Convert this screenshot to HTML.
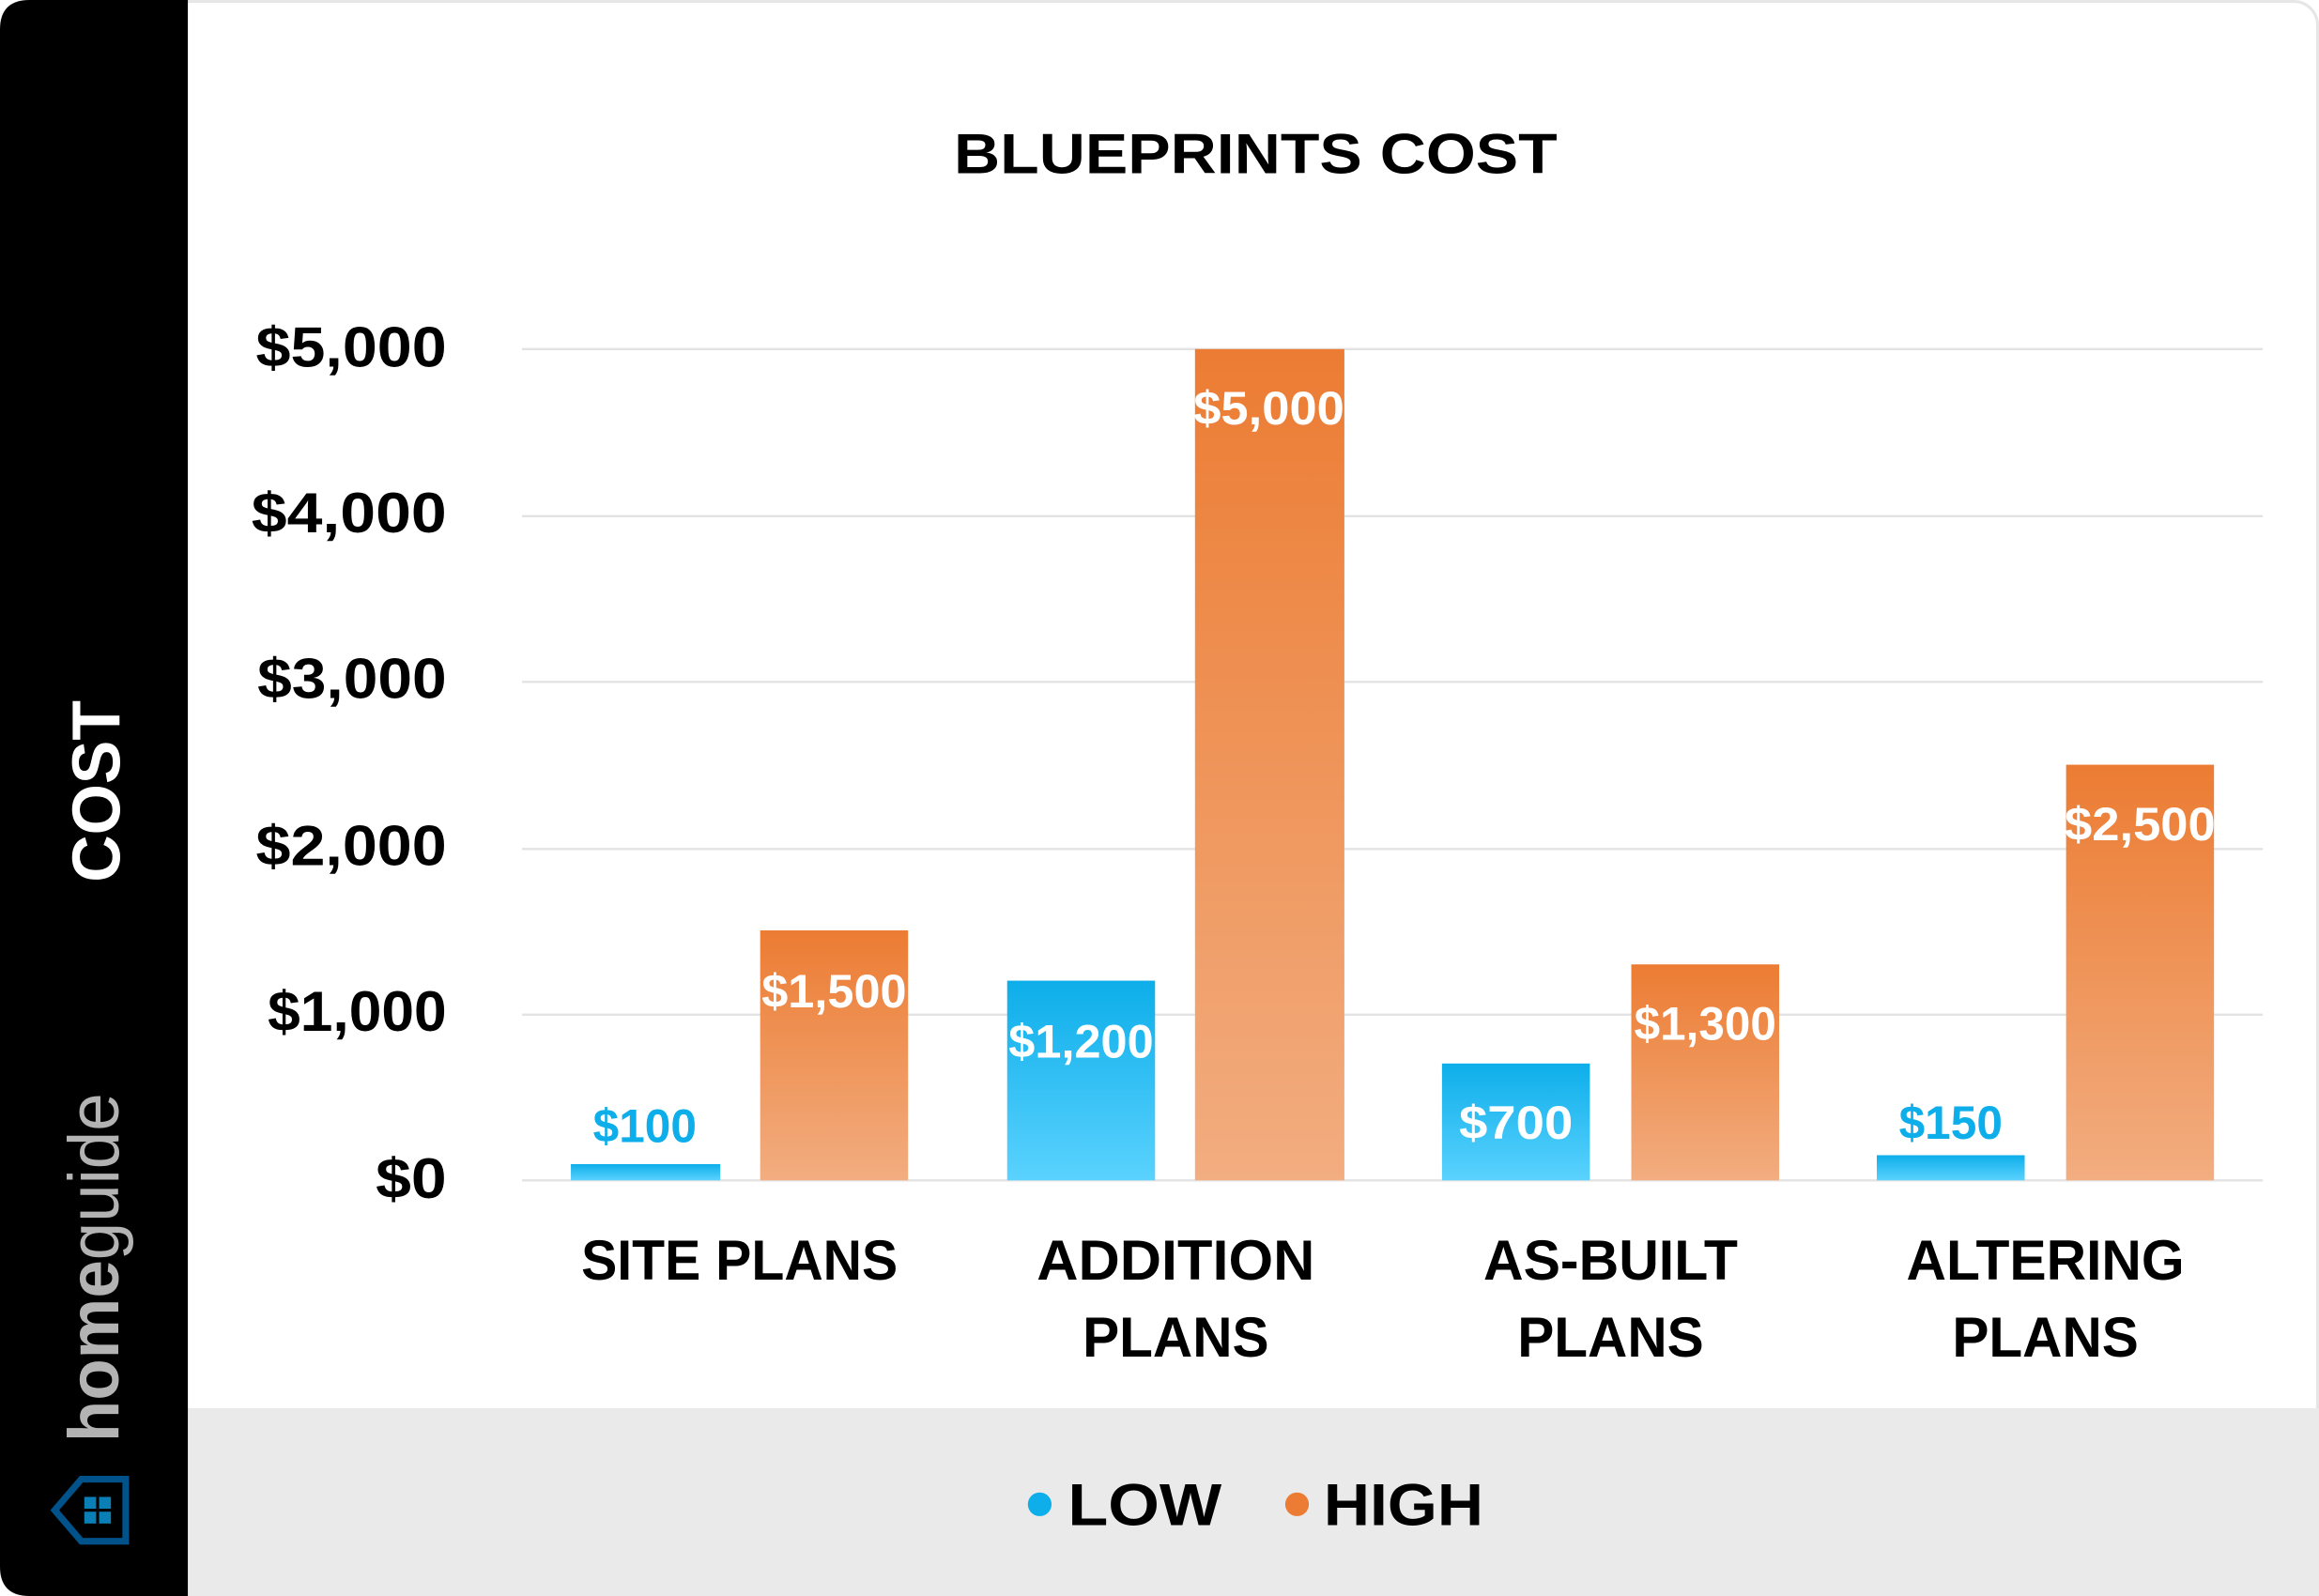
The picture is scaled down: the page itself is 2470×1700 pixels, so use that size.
<!DOCTYPE html>
<html><head><meta charset="utf-8"><style>html,body{margin:0;padding:0;background:#fff}svg{display:block}</style></head>
<body>
<svg width="2470" height="1700" viewBox="0 0 1568 1079" preserveAspectRatio="none" xmlns="http://www.w3.org/2000/svg" font-family="'Liberation Sans', sans-serif">
<defs>
<linearGradient id="bl" x1="0" y1="0" x2="0" y2="1"><stop offset="0" stop-color="#0DAEEA"/><stop offset="1" stop-color="#5AD2FE"/></linearGradient>
<linearGradient id="or" x1="0" y1="0" x2="0" y2="1"><stop offset="0" stop-color="#EC7C33"/><stop offset="1" stop-color="#F2AD80"/></linearGradient>
</defs>
<rect x="0" y="0" width="1568" height="1079" fill="#ffffff"/>
<rect x="1" y="1" width="1566" height="1077" rx="16" fill="#fff" stroke="#e6e6e6" stroke-width="2"/>
<rect x="127" y="952" width="1441" height="127" fill="#EAEAEA"/>
<path d="M20 0 H127 V1079 H20 Q0 1079 0 1059 V20 Q0 0 20 0 Z" fill="#000"/>
<text x="849" y="117" text-anchor="middle" font-size="38" font-weight="bold" fill="#000" textLength="408" lengthAdjust="spacingAndGlyphs">BLUEPRINTS COST</text>
<g stroke="#e3e3e3" stroke-width="1.5">
<line x1="353" y1="236" x2="1530" y2="236"/><line x1="353" y1="349" x2="1530" y2="349"/><line x1="353" y1="461" x2="1530" y2="461"/><line x1="353" y1="574" x2="1530" y2="574"/><line x1="353" y1="686" x2="1530" y2="686"/><line x1="353" y1="798" x2="1530" y2="798"/>
</g>
<g font-size="38" font-weight="bold" fill="#000" text-anchor="end">
<text x="302" y="248" textLength="129" lengthAdjust="spacingAndGlyphs">$5,000</text>
<text x="302" y="360" textLength="132" lengthAdjust="spacingAndGlyphs">$4,000</text>
<text x="302" y="472" textLength="128" lengthAdjust="spacingAndGlyphs">$3,000</text>
<text x="302" y="585" textLength="129" lengthAdjust="spacingAndGlyphs">$2,000</text>
<text x="302" y="697" textLength="121" lengthAdjust="spacingAndGlyphs">$1,000</text>
<text x="302" y="810" textLength="48" lengthAdjust="spacingAndGlyphs">$0</text>
</g>
<rect x="386" y="787" width="101" height="11" fill="url(#bl)"/>
<rect x="514" y="629" width="100" height="169" fill="url(#or)"/>
<rect x="681" y="663" width="100" height="135" fill="url(#bl)"/>
<rect x="808" y="236" width="101" height="562" fill="url(#or)"/>
<rect x="975" y="719" width="100" height="79" fill="url(#bl)"/>
<rect x="1103" y="652" width="100" height="146" fill="url(#or)"/>
<rect x="1269" y="781" width="100" height="17" fill="url(#bl)"/>
<rect x="1397" y="517" width="100" height="281" fill="url(#or)"/>
<g font-size="32" font-weight="bold" text-anchor="middle">
<text x="436" y="772" fill="#0DAEEA" textLength="70" lengthAdjust="spacingAndGlyphs">$100</text>
<text x="564" y="681" fill="#fff" textLength="98" lengthAdjust="spacingAndGlyphs">$1,500</text>
<text x="731" y="715" fill="#fff" textLength="98" lengthAdjust="spacingAndGlyphs">$1,200</text>
<text x="858" y="287" fill="#fff" textLength="102" lengthAdjust="spacingAndGlyphs">$5,000</text>
<text x="1025" y="770" fill="#fff" textLength="77" lengthAdjust="spacingAndGlyphs">$700</text>
<text x="1153" y="703" fill="#fff" textLength="96" lengthAdjust="spacingAndGlyphs">$1,300</text>
<text x="1319" y="770" fill="#0DAEEA" textLength="70" lengthAdjust="spacingAndGlyphs">$150</text>
<text x="1447" y="568" fill="#fff" textLength="102" lengthAdjust="spacingAndGlyphs">$2,500</text>
</g>
<g font-size="38" font-weight="bold" fill="#000" text-anchor="middle">
<text x="500" y="865" textLength="214" lengthAdjust="spacingAndGlyphs">SITE PLANS</text>
<text x="795" y="865" textLength="188" lengthAdjust="spacingAndGlyphs">ADDITION</text>
<text x="795" y="917" textLength="126" lengthAdjust="spacingAndGlyphs">PLANS</text>
<text x="1089" y="865" textLength="172" lengthAdjust="spacingAndGlyphs">AS-BUILT</text>
<text x="1089" y="917" textLength="126" lengthAdjust="spacingAndGlyphs">PLANS</text>
<text x="1383" y="865" textLength="188" lengthAdjust="spacingAndGlyphs">ALTERING</text>
<text x="1383" y="917" textLength="126" lengthAdjust="spacingAndGlyphs">PLANS</text>
</g>
<circle cx="703" cy="1017" r="8" fill="#0DAEEA"/>
<text x="722" y="1031" font-size="40" font-weight="bold" fill="#000" textLength="104" lengthAdjust="spacingAndGlyphs">LOW</text>
<circle cx="877" cy="1017" r="8" fill="#EC7C33"/>
<text x="895" y="1031" font-size="40" font-weight="bold" fill="#000" textLength="108" lengthAdjust="spacingAndGlyphs">HIGH</text>
<text transform="translate(81,535) rotate(-90)" text-anchor="middle" font-size="46" font-weight="bold" fill="#fff" textLength="123" lengthAdjust="spacingAndGlyphs">COST</text>
<text transform="translate(80,975) rotate(-90)" font-size="48" fill="#B3B3B3" textLength="236" lengthAdjust="spacingAndGlyphs"><tspan font-weight="bold">home</tspan>guide</text>
<polygon points="85,1000 55,1000 37,1021 55,1042 85,1042" fill="none" stroke="#00538A" stroke-width="4.5"/>
<g fill="#0A7FB5"><rect x="57" y="1012" width="8" height="8"/><rect x="67" y="1012" width="8" height="8"/><rect x="57" y="1022" width="8" height="8"/><rect x="67" y="1022" width="8" height="8"/></g>
</svg>
</body></html>
